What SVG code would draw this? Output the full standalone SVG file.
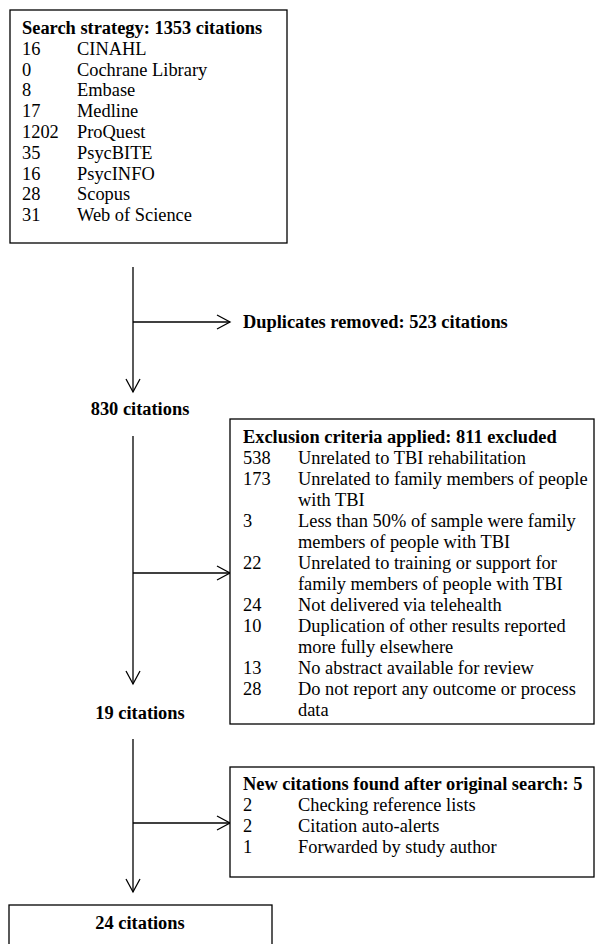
<svg xmlns="http://www.w3.org/2000/svg" width="595" height="944" viewBox="0 0 595 944">
<style>
text{font-family:"Liberation Serif","Times New Roman",serif;font-size:18.4px;fill:#000}
.b{font-weight:bold}
.m{text-anchor:middle}
.box{fill:#fff;stroke:#000;stroke-width:1.3}
.ln{fill:none;stroke:#000;stroke-width:1.3}
</style>
<defs>
<marker id="arr" markerUnits="userSpaceOnUse" viewBox="-15 -9 17 18" refX="0" refY="0" markerWidth="17" markerHeight="18" orient="auto">
<path d="M-13,-7 L0,0 L-13,7" fill="none" stroke="#000" stroke-width="1.3"/>
</marker>
</defs>
<rect width="595" height="944" fill="#fff"/>
<g id="connectors">
<path class="ln" d="M133,267 V392" marker-end="url(#arr)"/>
<path class="ln" d="M133,322 H230" marker-end="url(#arr)"/>
<path class="ln" d="M133,436 V684" marker-end="url(#arr)"/>
<path class="ln" d="M133,573 H230" marker-end="url(#arr)"/>
<path class="ln" d="M133,739 V892" marker-end="url(#arr)"/>
<path class="ln" d="M133,823 H230" marker-end="url(#arr)"/>
</g>
<g id="search">
<rect class="box" x="10" y="10" width="277" height="233"/>
<text class="b" x="22" y="34">Search strategy: 1353 citations</text>
<text x="22" y="55">16</text><text x="77" y="55">CINAHL</text>
<text x="22" y="76">0</text><text x="77" y="76">Cochrane Library</text>
<text x="22" y="96">8</text><text x="77" y="96">Embase</text>
<text x="22" y="117">17</text><text x="77" y="117">Medline</text>
<text x="22" y="138">1202</text><text x="77" y="138">ProQuest</text>
<text x="22" y="159">35</text><text x="77" y="159">PsycBITE</text>
<text x="22" y="180">16</text><text x="77" y="180">PsycINFO</text>
<text x="22" y="200">28</text><text x="77" y="200">Scopus</text>
<text x="22" y="221">31</text><text x="77" y="221">Web of Science</text>
</g>
<g id="duplicates">
<text class="b" x="243" y="328">Duplicates removed: 523 citations</text>
</g>
<g id="c830">
<text class="b m" x="140" y="415">830 citations</text>
</g>
<g id="exclusion">
<rect class="box" x="230" y="419" width="364" height="305"/>
<text class="b" x="243" y="443">Exclusion criteria applied: 811 excluded</text>
<text x="243" y="464">538</text><text x="298" y="464">Unrelated to TBI rehabilitation</text>
<text x="243" y="485">173</text><text x="298" y="485">Unrelated to family members of people</text>
<text x="298" y="506">with TBI</text>
<text x="243" y="527">3</text><text x="298" y="527">Less than 50% of sample were family</text>
<text x="298" y="548">members of people with TBI</text>
<text x="243" y="569">22</text><text x="298" y="569">Unrelated to training or support for</text>
<text x="298" y="590">family members of people with TBI</text>
<text x="243" y="611">24</text><text x="298" y="611">Not delivered via telehealth</text>
<text x="243" y="632">10</text><text x="298" y="632">Duplication of other results reported</text>
<text x="298" y="653">more fully elsewhere</text>
<text x="243" y="674">13</text><text x="298" y="674">No abstract available for review</text>
<text x="243" y="695">28</text><text x="298" y="695">Do not report any outcome or process</text>
<text x="298" y="716">data</text>
</g>
<g id="c19">
<text class="b m" x="140" y="719">19 citations</text>
</g>
<g id="newcitations">
<rect class="box" x="230" y="767" width="364" height="110"/>
<text class="b" x="243" y="790">New citations found after original search: 5</text>
<text x="243" y="811">2</text><text x="298" y="811">Checking reference lists</text>
<text x="243" y="832">2</text><text x="298" y="832">Citation auto-alerts</text>
<text x="243" y="853">1</text><text x="298" y="853">Forwarded by study author</text>
</g>
<g id="c24">
<rect class="box" x="9" y="905" width="263" height="60"/>
<text class="b m" x="140" y="929">24 citations</text>
</g>
</svg>
